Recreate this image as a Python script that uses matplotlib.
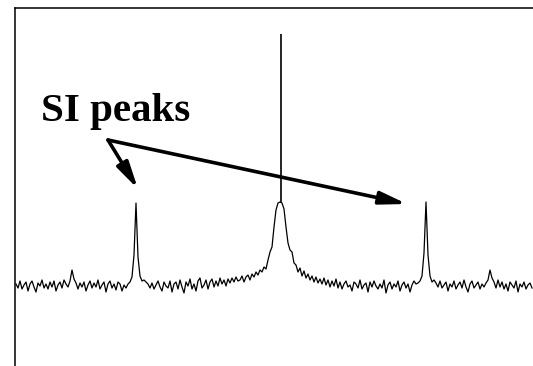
import numpy as np
import matplotlib.pyplot as plt

# Spectrum trace, one sample every 2 channels starting at channel 1
intensity = (
    # baseline
    [1, -3, 4, -4, 0, 3, -6, 1, 4, -2, -7, 2, -1, 5, -3, 1, -4, 3, -2, 4,
     -6, 0, 3, -3, 5, 1, -2]
    # small satellite
    + [4, 15, 6, 2]
    + [-4, 2, -2, 3, -6, 0, 4, -3, 2, -2, 5, -4, 0, 3, -7, 1, 4, -3, 1, -5,
       3, 1, -6, 0, -3, 1]
    # left SI peak
    + [3, 8, 30, 82, 28, 9, 4]
    + [5, 3, 1, -3, 2, -4, 0, 4, -2, -6, 3, -1, -3, 4, -7, 1, 3, -4, 5, -2,
       -8, 3, -1, 6, -4, 1, -6, 4, 7, -3, 0, 5, -4, 3, 6, -2, 4, -1, 7, 1,
       5, -1, 6, 2, 7, 3, 8, 4]
    # main line
    + [5, 9, 3, 8, 10, 5, 11, 8, 13, 10, 15, 13, 18, 16, 25, 33, 38, 58, 75, 82,
       83, 82, 76, 58, 42, 35, 33, 22, 20, 13, 17, 9, 14, 7, 11, 5, 9, 3, 8, 2,
       6]
    + [1, 7, 0, 5, -2, 4, -1, 6, -3, 3, -4, 1, 4, -2, 0, -6, 3, 1, -3, 5,
       -4, 0, 2, -7, 3, -2, 4, -1, -4, 1, -3, 5, -8, 0, 3, -4, 1, -2, 4, -6,
       0, 3, -3, 1, -7, 0, 4, 1, 2]
    # right SI peak
    + [4, 9, 32, 83, 30, 9, 3]
    + [5, 2, -2, 4, -3, 0, 3, -6, 1, -2, 4, -4, 0, 3, -3, 5, -2, -7, 1, 4,
       -3, 0, 3, -4, 1, -2, 2]
    # small satellite
    + [5, 15, 7, 3]
    + [-3, 5, -2, 3, -4, 1, -6, 3, 0, -3, 4, -7, 1, -2, 3, -4, 0, 2, -3]
)
channel = 1 + 2 * np.arange(len(intensity))

# narrow carrier spike sitting on top of the main line
spike_channel = 266
spike_base = 83
spike_top = 251

label = "SI peaks"

fig = plt.figure(figsize=(5.33, 3.66), dpi=100)
ax = fig.add_axes([15 / 533, 0, 518 / 533, 358 / 366])

ax.plot(channel, intensity, color='black', linewidth=0.9)
ax.vlines(spike_channel, spike_base, spike_top, color='black', linewidth=1.2)

ax.set_xlim(0, 518)
ax.set_ylim(-81, 277)
ax.set_xticks([])
ax.set_yticks([])
for side in ('right', 'bottom'):
    ax.spines[side].set_visible(False)
for side in ('left', 'top'):
    ax.spines[side].set_linewidth(1.1)

fig.text(41 / 533, 1 - 120.7 / 366, label, family='Liberation Serif',
         fontweight='bold', fontsize=29.5, ha='left', va='baseline')

arrow = dict(arrowstyle='-|>,head_length=1.6,head_width=0.38', lw=2.6,
             color='black', shrinkA=0, shrinkB=0, mutation_scale=10)
ax.annotate('', xy=(123, 96), xytext=(93, 145), arrowprops=arrow)
ax.annotate('', xy=(392, 81), xytext=(93, 145), arrowprops=arrow)

fig.savefig('out.png', dpi=100)
